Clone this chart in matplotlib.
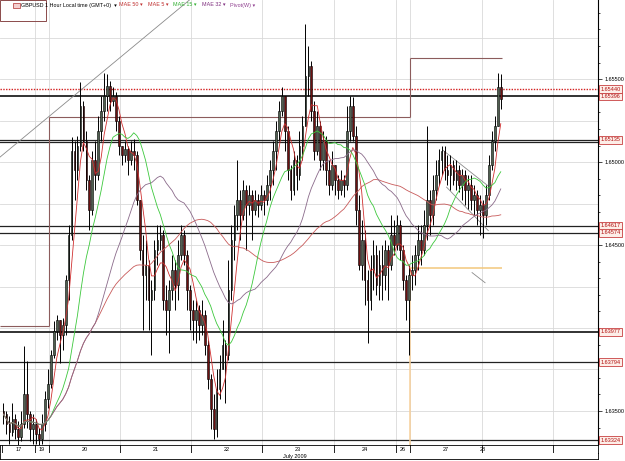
import numpy as np
import pandas as pd
import matplotlib
matplotlib.use("Agg")
import matplotlib.pyplot as plt
from matplotlib.patches import Rectangle
from matplotlib.transforms import blended_transform_factory

plt.rcParams['font.family'] = ['Liberation Sans', 'DejaVu Sans']

# GBPUSD hourly candles, prices as pips above 1.6300
first_open = 50
closes = [48, 42, 37, 45, 39, 34, 42, 60, 48, 39, 42,
          36, 33, 42, 57, 66,
          84, 98, 105, 96, 102, 129, 156, 207, 195, 210, 234, 213, 189, 171, 201, 192, 219, 231, 240, 246, 237, 240, 225, 210,
          204, 208, 201, 207, 204, 177, 147, 132, 138, 117, 123, 147, 153, 156, 117, 111, 123, 135, 126, 144, 156, 144, 123, 111,
          105, 111, 102, 108, 90, 69, 51, 39, 63, 75, 90, 84, 123, 153, 168, 177, 168, 183, 174, 180, 171, 177, 174, 180,
          177, 186, 195, 207, 219, 231, 240, 219, 195, 183, 201, 192, 210, 222, 252, 258, 231, 207, 222, 201, 213, 195, 186, 198,
          189, 183, 189, 186, 219, 234, 216, 171, 138, 153, 129, 117, 135, 144, 126, 138, 132, 147, 138, 156, 150,
          162, 147, 129, 117, 132,
          135, 144, 153, 147, 162, 177, 168, 183, 192, 201, 207, 195, 192, 198, 189, 195, 186, 192, 183, 186, 177, 180, 171, 174,
          168, 180, 198, 213, 222, 245, 238]
highs = [55, 50, 47, 55, 48, 44, 50, 89, 80, 50, 48,
         45, 40, 48, 62, 75,
         87, 104, 108, 105, 106, 132, 162, 215, 213, 216, 248, 237, 219, 192, 207, 213, 228, 240, 254, 253, 249, 245, 242, 228,
         210, 213, 210, 213, 214, 207, 177, 156, 153, 141, 129, 153, 162, 162, 159, 126, 129, 144, 141, 153, 162, 159, 147, 126,
         117, 117, 114, 117, 111, 93, 72, 60, 75, 84, 105, 93, 141, 162, 174, 201, 183, 189, 186, 186, 183, 183, 181, 186,
         183, 192, 201, 213, 225, 237, 245, 237, 222, 198, 207, 204, 219, 228, 283, 270, 261, 237, 231, 225, 219, 216, 201, 207,
         198, 192, 195, 192, 234, 240, 239, 222, 180, 165, 159, 135, 144, 153, 150, 147, 150, 153, 150, 168, 165,
         168, 165, 150, 132, 138,
         144, 150, 162, 162, 171, 222, 183, 192, 201, 208, 210, 210, 204, 204, 201, 201, 198, 196, 195, 192, 192, 186, 183, 180,
         177, 186, 204, 219, 228, 254, 253]
lows = [42, 36, 30, 35, 33, 28, 32, 40, 40, 32, 30,
        30, 28, 30, 38, 52,
        64, 82, 93, 79, 87, 96, 117, 153, 177, 189, 207, 207, 183, 159, 168, 183, 189, 213, 225, 231, 231, 234, 219, 204,
        198, 200, 192, 198, 195, 174, 141, 99, 117, 99, 84, 117, 138, 147, 111, 96, 85, 117, 111, 117, 141, 138, 111, 99,
        93, 91, 93, 96, 84, 63, 39, 33, 34, 57, 81, 55, 81, 117, 141, 159, 153, 165, 147, 168, 153, 168, 167, 171,
        168, 174, 177, 186, 195, 213, 228, 207, 189, 177, 180, 183, 189, 201, 222, 240, 225, 201, 204, 195, 195, 186, 180, 183,
        180, 178, 180, 179, 183, 213, 213, 162, 135, 129, 114, 91, 111, 123, 120, 117, 117, 123, 117, 135, 144,
        147, 141, 123, 105, 84,
        123, 126, 135, 138, 144, 153, 156, 162, 177, 186, 192, 189, 186, 183, 186, 183, 182, 177, 174, 172, 171, 168, 162, 156,
        154, 162, 177, 195, 207, 222, 232]

day_labels = ['17', '19', '20', '21', '22', '23', '24', '26', '27', '28']
day_counts = [11, 5, 24, 24, 24, 24, 21, 5, 24, 24]
month_label = 'July 2009'

level_values = [1.65396, 1.65135, 1.64617, 1.64574, 1.63977, 1.63794, 1.63324]
level_widths = [1.3, 0.9, 0.9, 0.9, 1.3, 0.9, 0.9]
red_level = 1.65440
extra_line = 1.65121
axis_labels = [1.635, 1.645, 1.650, 1.655]   # 1.64000 sits under the 1.63977 box

pivot_values = [1.6401, 1.6527, 1.6563]
pivot_from = [-1.2, 15.5, 137.5]
pivot_to = [15.5, 137.5, 168.5]

trend_x = [-1.2, 63.0]
trend_y = [1.6503, 1.6598]
chan_up_x, chan_up_y = [148.5, 164.4], [1.65071, 1.64847]
chan_lo_x, chan_lo_y = [149.7, 163.8], [1.64849, 1.64587]
short_x, short_y = [158.3, 162.7], [1.64334, 1.64273]
orange_level = 1.64364
orange_x = [137.3, 168.3]

ma_periods = [50, 5, 15, 32]
ma_colors = ['#c85a5a', '#d03030', '#3cc83c', '#8a6a8a']

W, H = 625, 461
YLO, YHI = 1.632946, 1.659773
XLO, XHI = -1.18, 200.85

c = 1.63 + np.array(closes, float) / 10000
h = 1.63 + np.array(highs, float) / 10000
l = 1.63 + np.array(lows, float) / 10000
o = np.r_[1.63 + first_open / 10000, c[:-1]]
h = np.maximum(h, np.maximum(o, c))
l = np.minimum(l, np.minimum(o, c))
idx = np.arange(len(c))

fig = plt.figure(figsize=(W / 100, H / 100), dpi=100)
ax = fig.add_axes([0, 16 / H, 598 / W, 445 / H])
ax.set_xlim(XLO, XHI)
ax.set_ylim(YLO, YHI)

# grid
bounds = np.r_[-0.5, -0.5 + np.cumsum(day_counts)]
for b in bounds[1:]:
    ax.axvline(b, color='#d9d9d9', lw=0.6, zorder=0)
for g in np.arange(1.6325, 1.6600, 0.0025):
    ax.axhline(g, color='#d9d9d9', lw=0.6, zorder=0)

# levels
for v, lw in zip(level_values, level_widths):
    ax.axhline(v, color='#222222', lw=lw, zorder=2)
ax.axhline(extra_line, color='#222222', lw=0.9, zorder=2)
ax.axhline(red_level, color='#d42020', lw=1.0, ls=(0, (1, 1)), zorder=2)

# pivot
for pv, a, b in zip(pivot_values, pivot_from, pivot_to):
    ax.hlines(pv, a, b, color='#8c5c5c', lw=0.8, zorder=2)
for k in range(1, len(pivot_values)):
    ax.vlines(pivot_from[k], pivot_values[k - 1], pivot_values[k], color='#8c5c5c', lw=0.8, zorder=2)

ax.plot(trend_x, trend_y, color='#8a8a8a', lw=0.6, zorder=2)
ax.plot(chan_up_x, chan_up_y, color='#8a8a8a', lw=0.6, zorder=2)
ax.plot(chan_lo_x, chan_lo_y, color='#8a8a8a', lw=0.6, zorder=2)
ax.plot(short_x, short_y, color='#8a8a8a', lw=0.6, zorder=2)
ax.hlines(orange_level, orange_x[0], orange_x[1], color='#f3c77c', lw=1.1, zorder=3)
ax.vlines(orange_x[0], YLO, orange_level, color='#f6cf9a', lw=1.1, zorder=3)

# moving averages
cs = pd.Series(c)
for p, col in zip(ma_periods, ma_colors):
    ax.plot(idx, cs.rolling(p, min_periods=1).mean(), color=col, lw=0.6, zorder=6)

# candles
up = c >= o
ax.vlines(idx, l, h, color='black', lw=0.7, zorder=4)
ax.bar(idx, np.maximum(np.abs(c - o), 0.00003), bottom=np.minimum(o, c), width=0.58,
       color=np.where(up, '#4f5f4f', '#6b1010'), edgecolor='black', lw=0.4, zorder=5)

# right axis
ax.yaxis.tick_right()
ax.set_yticks(axis_labels)
ax.set_yticks(np.arange(1.633, 1.6596, 0.001), minor=True)
ax.yaxis.set_major_formatter(plt.FuncFormatter(lambda v, _: f"{v:.5f}"))
ax.tick_params(axis='y', which='major', labelsize=4, length=3, width=0.5, pad=1.5)
ax.tick_params(axis='y', which='minor', length=1.5, width=0.5)
ax.set_xticks([])
for s in ['top', 'left', 'bottom']:
    ax.spines[s].set_visible(False)
ax.spines['right'].set_linewidth(0.8)

tr = blended_transform_factory(ax.transAxes, ax.transData)
for v in [red_level] + level_values:
    ax.text(1.004, v, f"{v:.5f}", transform=tr, fontsize=4, color='#b01010', va='center', ha='left',
            bbox=dict(boxstyle='square,pad=0.25', fc='#fdeee8', ec='#c84040', lw=0.6),
            zorder=10, clip_on=False)

# date row
dax = fig.add_axes([0, 8 / H, 598 / W, 8 / H])
dax.set_xlim(XLO, XHI)
dax.set_ylim(0, 1)
dax.set_xticks([])
dax.set_yticks([])
for b in bounds:
    dax.axvline(b, color='black', lw=0.6)
centers = (bounds[:-1] + bounds[1:]) / 2
centers[-1] = 161.9
for lab, x in zip(day_labels, centers):
    dax.text(x, 0.45, lab, fontsize=4, ha='center', va='center')
for s in dax.spines.values():
    s.set_linewidth(0.6)

max_ = fig.add_axes([0, 2 / H, 598 / W, 6 / H])
max_.set_xlim(XLO, XHI)
max_.set_xticks([])
max_.set_yticks([])
max_.text(98.5, 0.5, month_label, fontsize=4, ha='center', va='center')
for s in max_.spines.values():
    s.set_linewidth(0.6)
max_.spines['top'].set_visible(False)

# header
fig.patches.append(Rectangle((0, 1 - 21 / H), 46 / W, 21 / H, transform=fig.transFigure,
                             fill=False, ec='#8b4a4a', lw=0.7))
fig.patches.append(Rectangle((13 / W, 1 - 8 / H), 7 / W, 5 / H, transform=fig.transFigure,
                             fc='#f4d0d0', ec='#b03030', lw=0.5))
hy = 1 - 5 / H
header = [(21, 'GBPUSD 1 Hour Local time (GMT+0)  \u25be', '#000000'),
          (119, 'MAE 50 \u25be', '#c03030'),
          (148, 'MAE 5 \u25be', '#c03030'),
          (173, 'MAE 15 \u25be', '#30b030'),
          (202, 'MAE 32 \u25be', '#803080'),
          (230, 'Pivot(W) \u25be', '#904090')]
for x, t, col in header:
    fig.text(x / W, hy, t, fontsize=3.9, color=col, ha='left', va='center')

fig.savefig('out.png', dpi=100)
